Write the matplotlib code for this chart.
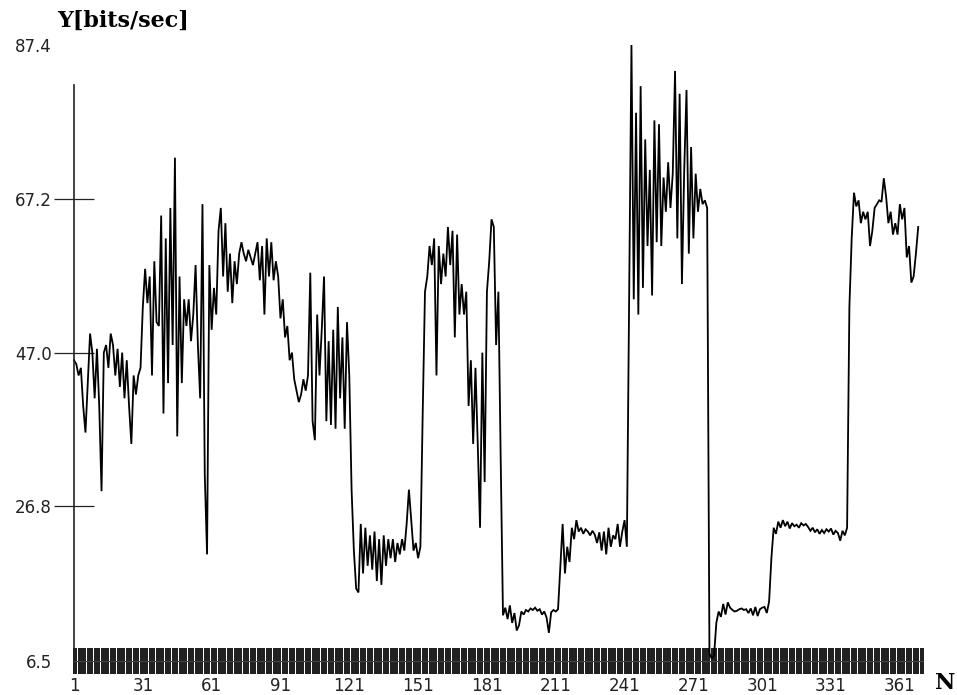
import numpy as np
import matplotlib
matplotlib.use("Agg")
import matplotlib.pyplot as plt
from matplotlib.ticker import MultipleLocator

# ---- data ----
y_values = [
    46, 45.5, 44, 45, 40, 36.5, 43, 49.5, 47, 41,
    47.5, 40, 28.8, 47, 48, 45, 49.5, 48, 44, 47.5,
    42.5, 47, 41, 46, 40, 35, 44, 41.5, 44, 45,
    53, 58, 53.5, 57, 44, 59, 51, 50.5, 65, 39,
    62, 43, 66, 48, 72.6, 36, 57, 43, 54, 50.5,
    54, 48.5, 52, 58.5, 48, 41, 66.5, 31, 20.5, 58.5,
    50, 55.5, 52, 63, 66, 57, 64, 55, 60, 53.5,
    59, 56, 60, 61.5, 60, 59, 60.5, 59.5, 58.5, 60,
    61.5, 56.5, 61, 52, 62, 57, 61.5, 56.5, 59, 57,
    51.5, 54, 49, 50.5, 46, 47, 43.5, 42, 40.5, 41.5,
    43.5, 42, 44, 57.5, 38, 35.5, 52, 44, 50, 57,
    38, 48.5, 37.5, 50, 37, 53, 41, 49, 37, 51,
    44, 29, 21, 16, 15.5, 24.5, 18, 24, 19, 23,
    18.5, 23.5, 17, 22.5, 16.5, 23, 19, 22.5, 20, 22.5,
    19.5, 22, 20.5, 22.5, 21, 24.5, 29, 25, 21, 22,
    20, 21.5, 39, 55, 57, 61, 58.5, 62, 44, 61,
    56, 60, 57, 63.5, 58.5, 63, 49, 62.5, 52, 56,
    52, 55, 40, 46, 35, 45, 35, 24, 47, 30,
    55, 59, 64.5, 63.5, 48, 55, 33, 12.5, 13.5, 12,
    13.8, 11.5, 12.8, 10.5, 11.2, 13, 12.6, 13.2, 13.0, 13.4,
    13.2, 13.5, 13.1, 13.3, 12.6, 13.0, 12.2, 10.2, 12.9, 13.2,
    13, 13.3, 19, 24.5, 18, 21.5, 19.5, 24, 22.5, 25,
    23.5, 24, 23.2, 23.8, 23.5, 23, 23.6, 23.1, 22, 23.4,
    21, 23.5, 20.5, 24, 21.5, 23, 22.5, 24.5, 21.5, 23.5,
    25, 21.5, 55, 87.4, 54, 78.5, 52, 82, 55.5, 75,
    61, 71, 54.5, 77.5, 61.5, 77, 61, 70, 65.5, 72,
    66, 70.5, 84, 62, 81, 56, 71, 81.5, 60, 74,
    62, 70.5, 65.5, 68.5, 66.5, 67, 66, 7.5, 6.8, 7.2,
    11.5, 13, 12.3, 14, 12.6, 14.2, 13.5, 13.2, 13.0, 13.1,
    13.3, 13.4, 13.2, 13.3, 12.8, 13.4, 12.5, 13.6, 12.4, 13.3,
    13.5, 13.6, 12.8, 14.3, 20, 24, 23.2, 24.8, 24, 25,
    24.2, 24.8, 23.9, 24.6, 24.2, 24.4, 24.0, 24.6, 24.3, 24.5,
    24.1, 23.6, 24.0, 23.4, 23.8, 23.2, 23.7, 23.3, 23.8, 23.5,
    23.9, 23.1, 23.6, 23.3, 22.3, 23.6, 23.0, 24.0, 53, 62,
    68, 66.2, 67, 64, 65.5, 64.5, 65.5, 61, 63, 66,
    66.5, 67, 66.8, 69.9, 67.5, 64, 65.5, 62.5, 64, 62.5,
    66.5, 64.5, 66, 59.5, 61, 56.2, 57, 60, 63.5,
]
n_values = np.arange(1, len(y_values) + 1)

x_ticks = [1, 31, 61, 91, 121, 151, 181, 211, 241, 271, 301, 331, 361]
y_ticks = [6.5, 26.8, 47.0, 67.2, 87.4]
y_label = "Y[bits/sec]"
x_label = "N"

# ---- figure ----
W, H = 957, 695
fig = plt.figure(figsize=(W / 100, H / 100), dpi=100)
ax = fig.add_axes([74 / W, 34 / H, 848.8 / W, 616 / H])

ax.plot(n_values, y_values, color="#000000", lw=1.3, clip_on=False,
        solid_joinstyle="miter")

ax.set_xlim(1, 371)
ax.set_ylim(6.5, 87.4)

for s in ("top", "right"):
    ax.spines[s].set_visible(False)
ax.spines["left"].set_bounds(6.5, 82.2)
ax.spines["left"].set_color("#222222")
ax.spines["left"].set_linewidth(1.2)
ax.spines["bottom"].set_color("#444444")
ax.spines["bottom"].set_linewidth(0.8)

# y ticks
ax.set_yticks(y_ticks)
ax.set_yticklabels([f"{v:.1f}" for v in y_ticks])
ax.tick_params(axis="y", direction="inout", length=28.8, width=0.9,
               color="#222222", pad=1.5, labelsize=12, labelcolor="#222222")
yt = ax.yaxis.get_major_ticks()
yt[0].tick1line.set_visible(False)
yt[-1].tick1line.set_visible(False)

# x ticks: a dense strip of ticks at every N
ax.set_xticks(x_ticks)
ax.xaxis.set_minor_locator(MultipleLocator(1))
ax.tick_params(axis="x", which="both", direction="inout", length=18.7,
               width=1.25, color="#000000")
ax.tick_params(axis="x", which="major", pad=2, labelsize=12,
               labelcolor="#222222")

fig.text(57 / W, 1 - 27 / H, y_label, fontsize=16, fontweight="bold",
         family="DejaVu Serif", ha="left", va="baseline")
fig.text(935 / W, 1 / H, x_label, fontsize=16, fontweight="bold",
         family="DejaVu Serif", ha="left", va="bottom")

fig.savefig("out.png", dpi=100)
